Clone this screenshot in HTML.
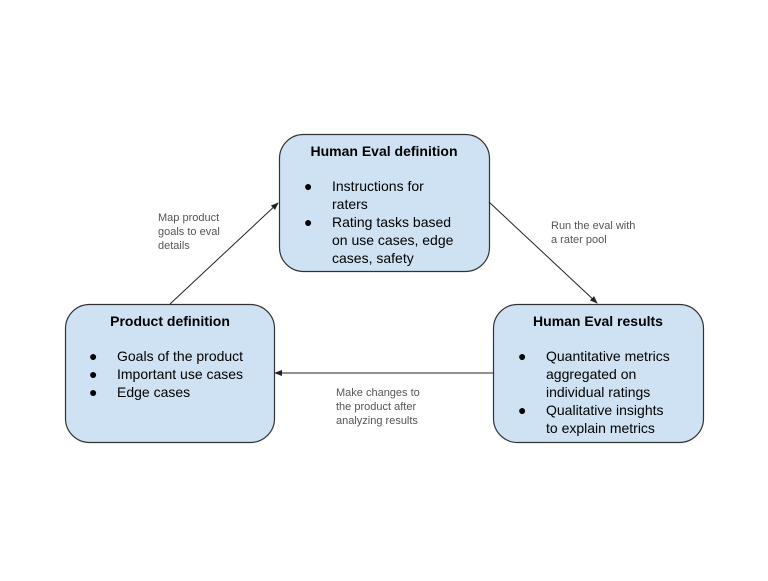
<!DOCTYPE html>
<html><head><style>body{margin:0;background:#fff}</style></head><body>
<svg width="768" height="576" xmlns="http://www.w3.org/2000/svg" font-family="Liberation Sans, Arial, sans-serif">
<defs><marker id="a" markerWidth="8" markerHeight="8" refX="7" refY="4" orient="auto" markerUnits="userSpaceOnUse"><path d="M0,1 L8,4 L0,7 Z" fill="#222"/></marker></defs>
<g fill="#cfe2f3" stroke="#333" stroke-width="1.2">
<rect x="279.5" y="134.5" width="210" height="137" rx="24"/>
<rect x="65.5" y="304.5" width="209" height="138" rx="24"/>
<rect x="493.5" y="304.5" width="210" height="138" rx="24"/>
</g>
<g stroke="#222" stroke-width="1" fill="none">
<line x1="170" y1="304" x2="278" y2="203" marker-end="url(#a)"/>
<line x1="489" y1="202" x2="597" y2="303" marker-end="url(#a)"/>
<line x1="493" y1="373" x2="275" y2="373" marker-end="url(#a)"/>
</g>
<g font-size="14" font-weight="bold" text-anchor="middle" fill="#000">
<text x="384" y="156">Human Eval definition</text>
<text x="170" y="326">Product definition</text>
<text x="598" y="326">Human Eval results</text>
</g>
<g font-size="14" fill="#000">
<text x="304" y="191">●</text><text x="332" y="191">Instructions for</text>
<text x="332" y="209">raters</text>
<text x="304" y="227">●</text><text x="332" y="227">Rating tasks based</text>
<text x="332" y="245">on use cases, edge</text>
<text x="332" y="263">cases, safety</text>
<text x="89" y="361">●</text><text x="117" y="361">Goals of the product</text>
<text x="89" y="379">●</text><text x="117" y="379">Important use cases</text>
<text x="89" y="397">●</text><text x="117" y="397">Edge cases</text>
<text x="518" y="361">●</text><text x="546" y="361">Quantitative metrics</text>
<text x="546" y="379">aggregated on</text>
<text x="546" y="397">individual ratings</text>
<text x="518" y="415">●</text><text x="546" y="415">Qualitative insights</text>
<text x="546" y="433">to explain metrics</text>
</g>
<g font-size="11" fill="#555">
<text x="158" y="221">Map product</text><text x="158" y="235">goals to eval</text><text x="158" y="249">details</text>
<text x="551" y="229">Run the eval with</text><text x="551" y="243">a rater pool</text>
<text x="336" y="396">Make changes to</text><text x="336" y="410">the product after</text><text x="336" y="424">analyzing results</text>
</g>
</svg>
</body></html>
